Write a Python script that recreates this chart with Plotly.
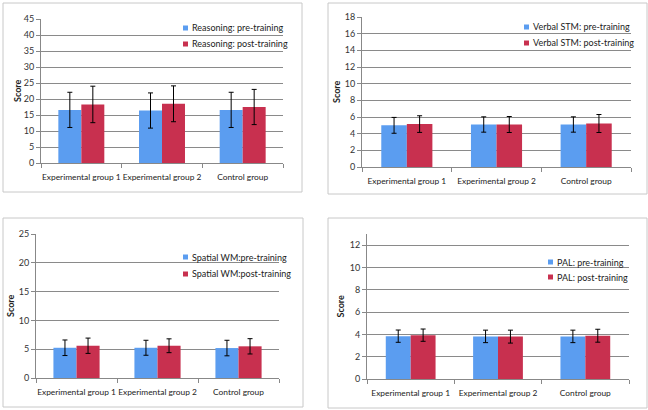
import plotly.graph_objects as go

groups = ["Experimental group 1", "Experimental group 2", "Control group"]

reason_pre = [16.6, 16.4, 16.6]
reason_pre_err = [5.5, 5.5, 5.5]
reason_post = [18.3, 18.5, 17.5]
reason_post_err = [5.7, 5.6, 5.5]

verbal_pre = [5.0, 5.1, 5.1]
verbal_pre_err = [0.95, 0.92, 0.92]
verbal_post = [5.15, 5.1, 5.22]
verbal_post_err = [1.0, 0.96, 1.08]

spatial_pre = [5.25, 5.25, 5.2]
spatial_pre_err = [1.35, 1.3, 1.35]
spatial_post = [5.6, 5.6, 5.5]
spatial_post_err = [1.33, 1.2, 1.33]

pal_pre = [3.84, 3.82, 3.82]
pal_pre_err = [0.55, 0.56, 0.56]
pal_post = [3.93, 3.8, 3.88]
pal_post_err = [0.55, 0.58, 0.58]

panels = [
    ("Reasoning: pre-training", reason_pre, reason_pre_err,
     "Reasoning: post-training", reason_post, reason_post_err, 45, 5, 45),
    ("Verbal STM: pre-training", verbal_pre, verbal_pre_err,
     "Verbal STM: post-training", verbal_post, verbal_post_err, 18, 2, 18),
    ("Spatial WM:pre-training", spatial_pre, spatial_pre_err,
     "Spatial WM:post-training", spatial_post, spatial_post_err, 25, 5, 25),
    ("PAL: pre-training", pal_pre, pal_pre_err,
     "PAL: post-training", pal_post, pal_post_err, 13, 2, 12),
]

W, H = 648, 410
FONT = "Lato, Liberation Sans, sans-serif"
# plot areas in pixels: (x0, x1, ytop, ybottom)
areas = [(41, 283, 19, 163), (362, 631, 17, 167), (36, 279, 234, 378), (367, 629, 234, 379)]
borders = [(3, 302, 3, 192), (328, 647, 3, 194), (3, 303, 218, 407), (328, 647, 218, 408)]
# legend marker x, first row y, second row y
legpos = [(183, 28, 44), (524, 27, 43), (183, 257, 274), (548, 262, 277)]
ytitle_x = [18, 337, 10, 340]

BLUE = "#5B9DF0"
RED = "#C8304F"

fig = go.Figure()
layout = dict(width=W, height=H, margin=dict(l=0, r=0, t=0, b=0),
              paper_bgcolor="white", plot_bgcolor="white",
              barmode="group", bargap=0.43, bargroupgap=0.0, showlegend=False,
              font=dict(family=FONT, size=9, color="#222"),
              shapes=[], annotations=[])

for i, (n1, v1, e1, n2, v2, e2, ymax, dt, tmax) in enumerate(panels):
    k = "" if i == 0 else str(i + 1)
    xa, ya = "x" + k, "y" + k
    fig.add_trace(go.Bar(x=groups, y=v1, name=n1, marker=dict(color=BLUE, line=dict(width=0)),
                         error_y=dict(type="data", array=e1, color="black", thickness=1, width=2.5),
                         xaxis=xa, yaxis=ya))
    fig.add_trace(go.Bar(x=groups, y=v2, name=n2, marker=dict(color=RED, line=dict(width=0)),
                         error_y=dict(type="data", array=e2, color="black", thickness=1, width=2.5),
                         xaxis=xa, yaxis=ya))
    x0, x1, yt, yb = areas[i]
    layout["xaxis" + k] = dict(domain=[x0 / W, x1 / W], anchor=ya, type="category",
                               showline=True, linecolor="#888", linewidth=1,
                               ticks="outside", tickson="boundaries", ticklen=4, tickcolor="#888",
                               showgrid=False, tickangle=0, automargin=False,
                               ticklabelstandoff=6,
                               tickfont=dict(size=8.4, color="#222", family=FONT))
    layout["yaxis" + k] = dict(domain=[(H - yb) / H, (H - yt) / H], anchor=xa,
                               range=[0, ymax], tickmode="array",
                               tickvals=list(range(0, tmax + 1, dt)),
                               showline=True, linecolor="#888", linewidth=1,
                               ticks="outside", ticklen=4, tickcolor="#888",
                               showgrid=True, gridcolor="#8a8a8a", gridwidth=1,
                               zeroline=False, automargin=False,
                               tickfont=dict(size=9, color="#333", family=FONT))
    mx, ly1, ly2 = legpos[i]
    for (nm, col, ly) in ((n1, BLUE, ly1), (n2, RED, ly2)):
        layout["shapes"].append(dict(type="rect", xref="paper", yref="paper",
                                     x0=mx / W, x1=(mx + 5) / W,
                                     y0=(H - ly - 2.5) / H, y1=(H - ly + 2.5) / H,
                                     line=dict(width=0), fillcolor=col))
        layout["annotations"].append(dict(text=nm, xref="paper", yref="paper",
                                          x=(mx + 7) / W, y=(H - ly) / H,
                                          xanchor="left", yanchor="middle", showarrow=False,
                                          font=dict(size=9, color="#222", family=FONT)))
    bx0, bx1, by0, by1 = borders[i]
    layout["shapes"].append(dict(type="rect", xref="paper", yref="paper",
                                 x0=bx0 / W, x1=bx1 / W, y0=(H - by1) / H, y1=(H - by0) / H,
                                 line=dict(color="#c8c8c8", width=1), fillcolor="rgba(0,0,0,0)",
                                 layer="below"))
    layout["annotations"].append(dict(text="<b>Score</b>", xref="paper", yref="paper",
                                      x=ytitle_x[i] / W, y=(H - (yt + yb) / 2) / H,
                                      textangle=-90, showarrow=False,
                                      font=dict(size=9, color="#222", family=FONT),
                                      xanchor="center", yanchor="middle"))

fig.update_layout(**layout)
fig.write_html("out.html", config={"displayModeBar": False},
               post_script="document.body.style.margin='0';document.body.style.overflow='hidden';")
